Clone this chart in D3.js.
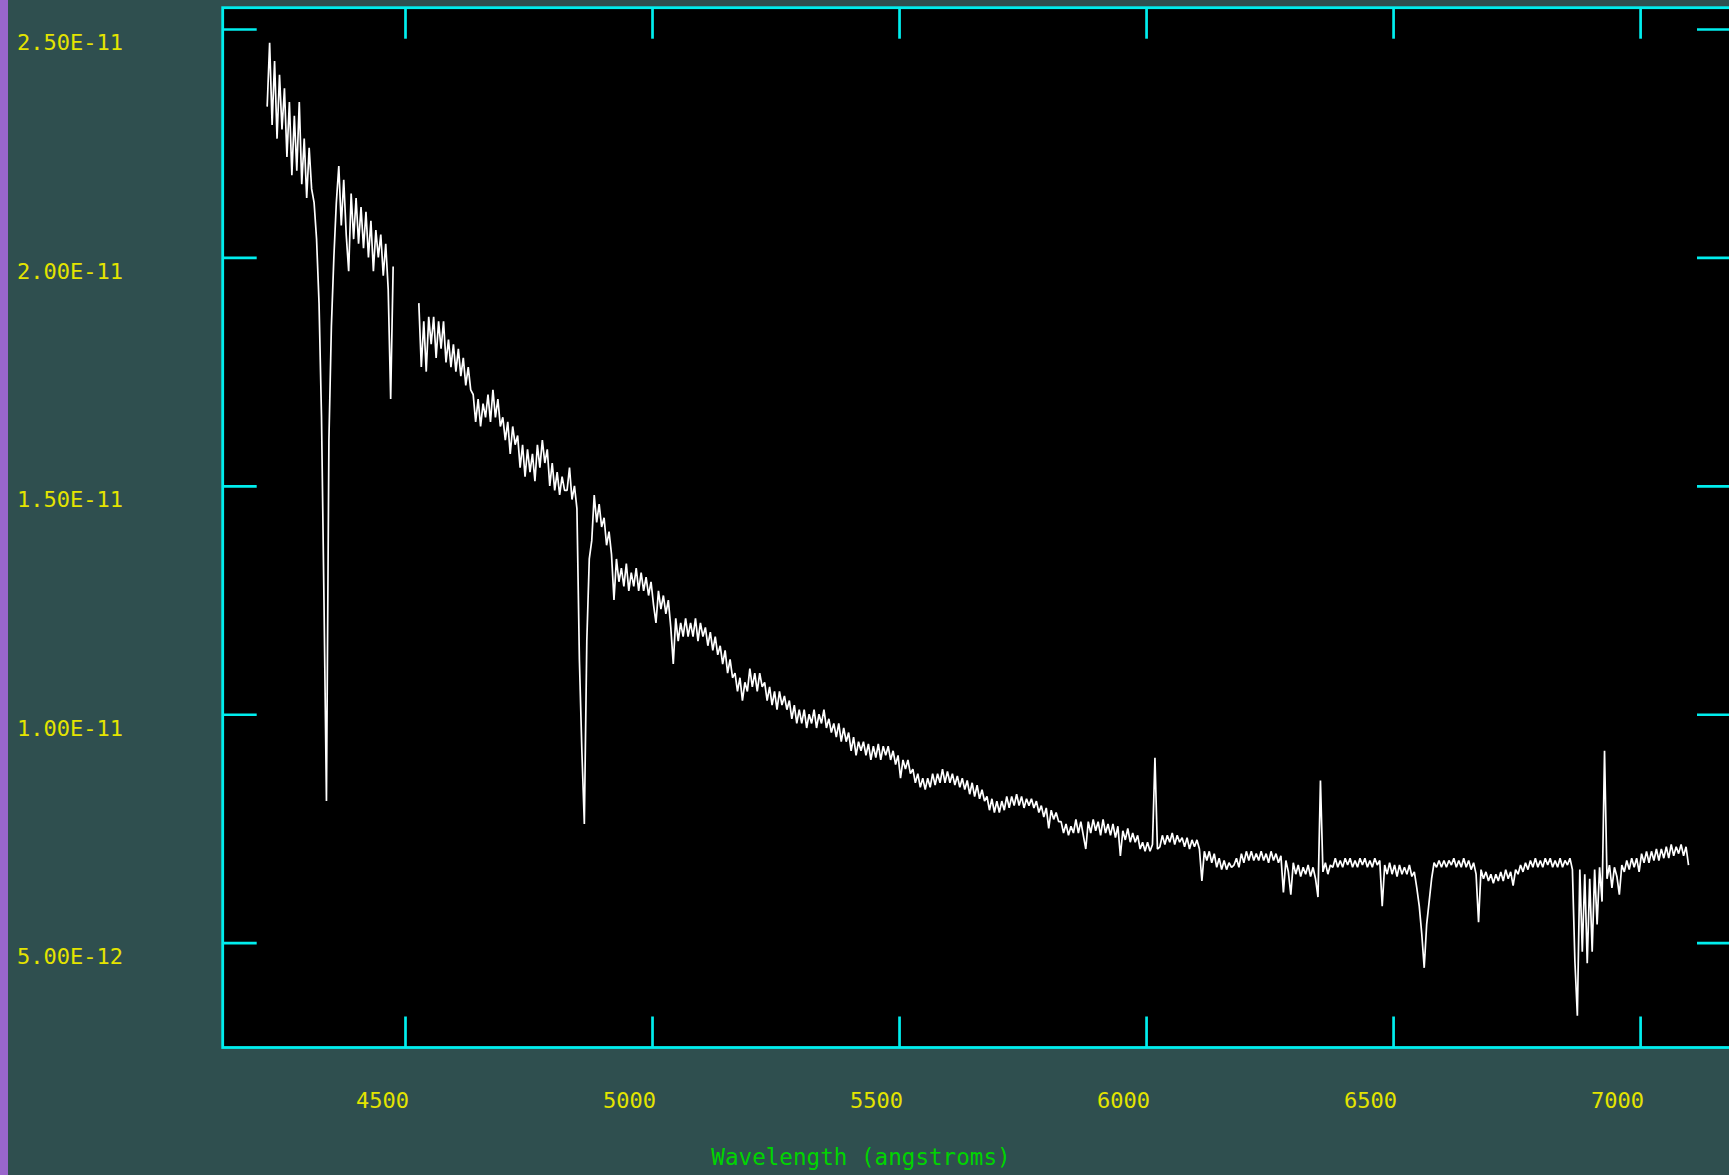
<!DOCTYPE html>
<html>
<head>
<meta charset="utf-8">
<script src="https://cdn.jsdelivr.net/npm/d3@7"></script>
<style>
  html, body { margin: 0; padding: 0; background: #2f4f4f; overflow: hidden; }
  svg { display: block; }
</style>
</head>
<body>
<svg id="chart" width="1729" height="1175"></svg>
<script>
// Flux is stored in units of 1e-13; wavelengths in angstroms on a linear grid.
const fluxUnit = 1e-13;
const dispersion = 5;                 // angstroms per sample

// Blue arm: starts at 4221 A
const blueStart = 4221;
const blueFlux = [
  233, 247, 229, 243, 226, 240, 228, 237, 222, 234,
  218, 231, 219, 234, 216, 226, 213, 224, 215, 212,
  204, 190, 165, 125, 81, 160, 185, 200, 212, 220,
  207, 217, 205, 197, 214, 204, 213, 203, 211, 202,
  210, 200, 208, 197, 206, 200, 205, 196, 203, 193,
  169, 198
];

// Red arm: starts at 4528 A
const redStart = 4528;
const redFlux = [
  190, 176, 186, 175, 187, 181, 187, 178, 186, 180,
  186, 177, 182, 176, 181, 175, 180, 174, 178, 172,
  176, 171, 170, 164, 169, 163, 168, 165, 170, 164,
  171, 165, 169, 163, 165, 160, 164, 157, 163, 159,
  161, 154, 159, 152, 158, 153, 157, 151, 159, 154,
  160, 155, 158, 150, 155, 149, 153, 148, 152, 149,
  149, 154, 147, 150, 145, 112, 92, 76, 116, 134,      // H-beta
  138, 148, 142, 146, 141, 143, 137, 140, 135, 125,
  134, 129, 132, 128, 133, 127, 131, 128, 132, 127,
  131, 127, 130, 126, 129, 124, 120, 127, 123, 126,
  122, 125, 119, 111, 121, 116, 120, 117, 121, 117,
  120, 117, 121, 116, 120, 117, 119, 115, 118, 114,
  117, 113, 115, 111, 114, 109, 112, 108, 109, 105,
  108, 103, 107, 105, 110, 106, 109, 105, 109, 106,
  107, 103, 106, 102, 105, 101, 105, 102, 104, 101,
  103, 99, 102, 98, 101, 98, 101, 97, 100, 98,
  101, 97, 100, 98, 101, 97, 99, 96, 98, 95,
  98, 94, 97, 94, 96, 92, 95, 91, 94, 92,
  94, 91, 93.5, 90, 93, 90.5, 93.5, 90, 93, 91,
  93, 90, 92, 89, 91, 86, 90, 88, 90, 87,
  88, 85, 87, 84, 86, 83.5, 86, 84, 87, 84.5,
  87, 85, 88, 85, 87.5, 85, 87, 84.5, 86.5, 84,
  86, 83.5, 85.5, 82.5, 85, 82, 84.5, 81.5, 83.5, 81,
  82, 79, 81.5, 78.5, 81, 78.5, 81, 79, 82, 79.5,
  82, 80, 82.5, 80, 82, 79.5, 81.5, 80, 81.5, 79.5,
  81, 78.5, 80, 77.5, 79.5, 75, 79, 77, 78.5, 76.5,
  76.5, 74, 76, 73.5, 75.5, 74, 77, 74, 76.5, 73.5,
  70.5, 76.5, 74, 77, 74.5, 76.5, 73.5, 77, 74, 76,
  73.5, 76, 73, 75.5, 69, 74.5, 72.5, 75, 72, 74,
  72, 73.5, 70.5, 72, 70, 72, 70, 71.5, 90.5, 70.5,
  71, 73.5, 71.5, 73.5, 72, 74, 71.5, 73.5, 72, 73,
  71, 73, 70.5, 72.5, 71, 72.5, 70.5, 63.5, 70, 68,
  70, 67.5, 69.5, 66.5, 68.5, 66, 68, 66, 67.5, 66.5,
  67, 68.5, 66.5, 69.5, 67.5, 70, 68, 70, 68, 69.5,
  68, 70, 68, 69.5, 67.5, 70, 68, 69.5, 67.5, 69,
  61, 68, 65.5, 60.5, 67.5, 65, 67, 64.5, 66.5, 65,
  67, 64.5, 66.5, 64, 60, 85.5, 65.5, 67.5, 65, 67,
  66.5, 68.5, 66.5, 68, 66.5, 68.5, 67, 68.5, 66.5, 68,
  66.5, 68.5, 67, 68.5, 66.5, 68, 66.5, 68.5, 67, 68,
  58, 67, 65, 67.5, 65, 67, 64.5, 67, 65, 66.5,
  65, 67, 64.5, 65.5, 62, 58, 52, 44.5, 54, 59,         // H-alpha
  64, 67.5, 66.5, 68, 66.5, 68, 66.5, 68, 67, 68.5,
  66.5, 68, 66.5, 68.5, 66.5, 68, 66, 67.5, 65, 54.5,
  66, 64, 65.5, 63.5, 65, 63, 65, 63.5, 65.5, 63.5,
  66, 64, 65.5, 62.5, 66, 65, 67, 65.5, 67.5, 66,
  68, 66.5, 68.5, 66.5, 68, 66.5, 68.5, 67, 68.5, 66.5,
  68, 66.5, 68.5, 66.5, 68, 67, 68.5, 66, 46, 34,       // telluric B band
  66, 48, 65, 45.5, 64, 48, 66, 54, 66.5, 59,
  92, 64, 67, 62, 66.5, 64.5, 60.5, 67, 65.5, 68,
  66, 68.5, 66.5, 68.5, 65.5, 69.5, 67.5, 70, 67.5, 70,
  68, 70.5, 68, 70.5, 68.5, 71, 68.5, 71.5, 69, 71,
  69.5, 71.5, 69, 71, 67
];

// Axis ticks and their labels
const xTicks = [4500, 5000, 5500, 6000, 6500, 7000];
const xTickLabels = ["4500", "5000", "5500", "6000", "6500", "7000"];
const yTicks = [50, 100, 150, 200, 250];
const yTickLabels = ["5.00E-12", "1.00E-11", "1.50E-11", "2.00E-11", "2.50E-11"];
const xTitle = "Wavelength (angstroms)";

// Plot window limits (data units)
const xDomain = [4131, 7184];
const yDomain = [27.06, 254.66];

// ---------------------------------------------------------------
const W = 1729, H = 1175;
const frame = { left: 222.7, top: 7.7, right: 1731, bottom: 1047.5 };
const axisColor = "#00eeee";
const labelColor = "#e4e400";
const titleColor = "#00d400";
const monoFont = "'DejaVu Sans Mono', 'Liberation Mono', monospace";

const svg = d3.select("#chart");

svg.append("rect").attr("width", W).attr("height", H).attr("fill", "#2f4f4f");
svg.append("rect").attr("x", 0).attr("y", 0).attr("width", 8).attr("height", H).attr("fill", "#9966cc");

const x = d3.scaleLinear().domain(xDomain).range([frame.left, frame.right]);
const y = d3.scaleLinear().domain(yDomain).range([frame.bottom, frame.top]);

// Plot area
svg.append("rect")
  .attr("x", frame.left).attr("y", frame.top)
  .attr("width", frame.right - frame.left).attr("height", frame.bottom - frame.top)
  .attr("fill", "#000");

svg.append("clipPath").attr("id", "plotClip")
  .append("rect")
  .attr("x", frame.left).attr("y", frame.top)
  .attr("width", frame.right - frame.left).attr("height", frame.bottom - frame.top);

// Spectrum: one path per arm
const toPoints = (start, flux) => flux.map((f, i) => ({ w: start + i * dispersion, f }));
const segments = [toPoints(blueStart, blueFlux), toPoints(redStart, redFlux)];

const line = d3.line().x(d => x(d.w)).y(d => y(d.f));

svg.append("g").attr("clip-path", "url(#plotClip)")
  .selectAll("path").data(segments).join("path")
  .attr("d", line)
  .attr("fill", "none")
  .attr("stroke", "#ffffff")
  .attr("stroke-width", 1.7)
  .attr("stroke-linejoin", "bevel");

// Ticks on all four sides, pointing inward
function styleTicks(g) {
  g.select(".domain").remove();
  g.selectAll(".tick line").attr("stroke", axisColor).attr("stroke-width", 2.7);
  g.selectAll(".tick text").remove();
}
svg.append("g").attr("transform", `translate(0,${frame.bottom})`)
  .call(d3.axisTop(x).tickValues(xTicks).tickSize(31).tickFormat("")).call(styleTicks);
svg.append("g").attr("transform", `translate(0,${frame.top})`)
  .call(d3.axisBottom(x).tickValues(xTicks).tickSize(31).tickFormat("")).call(styleTicks);
svg.append("g").attr("transform", `translate(${frame.left},0)`)
  .call(d3.axisRight(y).tickValues(yTicks).tickSize(34).tickFormat("")).call(styleTicks);
svg.append("g").attr("transform", `translate(${frame.right},0)`)
  .call(d3.axisLeft(y).tickValues(yTicks).tickSize(34).tickFormat("")).call(styleTicks);

// Frame
svg.append("rect")
  .attr("x", frame.left).attr("y", frame.top)
  .attr("width", frame.right - frame.left).attr("height", frame.bottom - frame.top)
  .attr("fill", "none").attr("stroke", axisColor).attr("stroke-width", 2.8);

// Tick labels
svg.append("g").selectAll("text").data(xTicks).join("text")
  .attr("x", d => x(d) + 4)
  .attr("y", 1108)
  .attr("text-anchor", "end")
  .attr("font-family", monoFont).attr("font-size", 22)
  .attr("fill", labelColor)
  .text((d, i) => xTickLabels[i]);

svg.append("g").selectAll("text").data(yTicks).join("text")
  .attr("x", 17)
  .attr("y", d => y(d) + 21.5)
  .attr("text-anchor", "start")
  .attr("font-family", monoFont).attr("font-size", 22)
  .attr("fill", labelColor)
  .text((d, i) => yTickLabels[i]);

// Axis title
svg.append("text")
  .attr("x", 861).attr("y", 1165)
  .attr("text-anchor", "middle")
  .attr("font-family", monoFont).attr("font-size", 22.6)
  .attr("fill", titleColor)
  .text(xTitle);
</script>
</body>
</html>
